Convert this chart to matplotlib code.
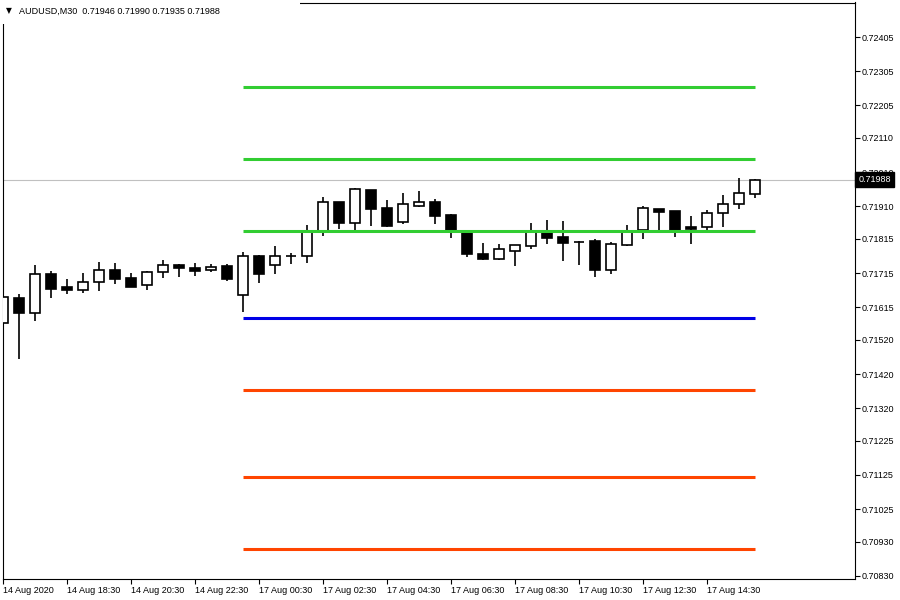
import matplotlib
matplotlib.use('Agg')
import matplotlib.pyplot as plt
import matplotlib.transforms as mtransforms
from matplotlib.patches import Rectangle

plt.rcParams['font.family'] = ['Liberation Sans', 'DejaVu Sans']

# AUDUSD M30 bars (oldest first)
opens = [0.71568, 0.71641, 0.71598, 0.71712, 0.71673, 0.71667, 0.71688, 0.71723,
         0.71700, 0.71679, 0.71717, 0.71739, 0.71729, 0.71725, 0.71736, 0.71650,
         0.71765, 0.71738, 0.71765, 0.71764, 0.71838, 0.71922, 0.71861, 0.71958,
         0.71905, 0.71865, 0.71912, 0.71922, 0.71885, 0.71834, 0.71771, 0.71757,
         0.71781, 0.71795, 0.71832, 0.71821, 0.71807, 0.71809, 0.71725, 0.71798,
         0.71841, 0.71901, 0.71896, 0.71849, 0.71849, 0.71892, 0.71916, 0.71946]
highs = [0.71654, 0.71654, 0.71739, 0.71721, 0.71698, 0.71715, 0.71747, 0.71744,
         0.71715, 0.71721, 0.71753, 0.71742, 0.71744, 0.71742, 0.71742, 0.71776,
         0.71768, 0.71794, 0.71775, 0.71856, 0.71937, 0.71923, 0.71964, 0.71958,
         0.71929, 0.71949, 0.71955, 0.71932, 0.71888, 0.71838, 0.71803, 0.71800,
         0.71797, 0.71862, 0.71871, 0.71867, 0.71810, 0.71814, 0.71806, 0.71856,
         0.71911, 0.71901, 0.71896, 0.71882, 0.71899, 0.71943, 0.71993, 0.71990]
lows = [0.71552, 0.71463, 0.71576, 0.71643, 0.71655, 0.71658, 0.71664, 0.71684,
        0.71675, 0.71667, 0.71702, 0.71704, 0.71707, 0.71719, 0.71693, 0.71602,
        0.71687, 0.71713, 0.71743, 0.71746, 0.71824, 0.71843, 0.71842, 0.71854,
        0.71851, 0.71860, 0.71909, 0.71860, 0.71819, 0.71763, 0.71754, 0.71754,
        0.71737, 0.71786, 0.71801, 0.71750, 0.71740, 0.71704, 0.71713, 0.71794,
        0.71815, 0.71841, 0.71821, 0.71801, 0.71831, 0.71849, 0.71903, 0.71935]
closes = [0.71644, 0.71598, 0.71712, 0.71669, 0.71667, 0.71688, 0.71723, 0.71699,
          0.71675, 0.71717, 0.71738, 0.71729, 0.71722, 0.71732, 0.71699, 0.71765,
          0.71713, 0.71765, 0.71765, 0.71834, 0.71922, 0.71861, 0.71961, 0.71903,
          0.71854, 0.71916, 0.71922, 0.71883, 0.71841, 0.71772, 0.71757, 0.71786,
          0.71797, 0.71834, 0.71819, 0.71804, 0.71806, 0.71725, 0.71800, 0.71834,
          0.71904, 0.71895, 0.71838, 0.71845, 0.71890, 0.71917, 0.71948, 0.71988]

time_labels = ['14 Aug 2020', '14 Aug 18:30', '14 Aug 20:30', '14 Aug 22:30',
               '17 Aug 00:30', '17 Aug 02:30', '17 Aug 04:30', '17 Aug 06:30',
               '17 Aug 08:30', '17 Aug 10:30', '17 Aug 12:30', '17 Aug 14:30']
bars_per_label = 4

# pivot levels (resistance / pivot / support)
resistance = [0.72259, 0.72049, 0.71838]
pivot = [0.71584]
support = [0.71374, 0.71119, 0.70909]
level_start = 15

price_ticks = [0.72405, 0.72305, 0.72205, 0.72110, 0.72010, 0.71910, 0.71815,
               0.71715, 0.71615, 0.71520, 0.71420, 0.71320, 0.71225, 0.71125,
               0.71025, 0.70930, 0.70830]
last_price = 0.71988
header = 'AUDUSD,M30  0.71946 0.71990 0.71935 0.71988'

fig = plt.figure(figsize=(9, 6), dpi=100)
ax = fig.add_axes([2.5 / 900, 21 / 600, 852.5 / 900, 576.5 / 600])

# bid line
ax.axhline(last_price, color='#c0c0c0', lw=0.8, zorder=1)

# candles
for i, (o, h, l, c) in enumerate(zip(opens, highs, lows, closes)):
    ax.vlines(i, l, h, color='black', lw=1.2, zorder=2)
    fill = 'white' if c >= o else 'black'
    ax.add_patch(Rectangle((i - 0.33, min(o, c)), 0.66, abs(c - o),
                           facecolor=fill, edgecolor='black', lw=1.2, zorder=3))

last = len(opens) - 1
ax.hlines(resistance, level_start, last, colors='#32cd32', lw=2.2, zorder=4)
ax.hlines(pivot, level_start, last, colors='#0000e6', lw=2.2, zorder=4)
ax.hlines(support, level_start, last, colors='#ff4500', lw=2.2, zorder=4)

ax.set_xlim(-0.03, 53.25)
ax.set_ylim(0.70821, 0.72506)

ax.yaxis.tick_right()
ax.set_yticks(price_ticks)
ax.set_yticklabels(['%.5f' % v for v in price_ticks])
ax.set_xticks(range(0, len(time_labels) * bars_per_label, bars_per_label))
ax.set_xticklabels(time_labels, ha='left')
ax.tick_params(axis='both', direction='out', length=3.5, width=0.8,
               pad=1.5, labelsize=6.5, colors='black')
for s in ax.spines.values():
    s.set_linewidth(0.8)
    s.set_color('black')

# current price tag on the axis
trans = mtransforms.blended_transform_factory(ax.transAxes, ax.transData)
ax.text(1.0 + 3.5 / 852.5, last_price, '%.5f' % last_price, transform=trans,
        color='white', fontsize=6.5, va='center', ha='left', zorder=6,
        bbox=dict(boxstyle='square,pad=0.35', fc='black', ec='black'),
        clip_on=False)

# header
fig.patches.append(Rectangle((0, 1 - 24 / 600), 300 / 900, 24 / 600,
                             transform=fig.transFigure, facecolor='white',
                             edgecolor='none', zorder=2))
fig.text(6 / 900, 1 - 11 / 600, '\u25bc', fontsize=5.5, va='center', ha='left',
         family=['DejaVu Sans'], zorder=3)
fig.text(19 / 900, 1 - 11 / 600, header, fontsize=6.5, va='center', ha='left',
         zorder=3)

fig.savefig('out.png', dpi=100, facecolor='white')
